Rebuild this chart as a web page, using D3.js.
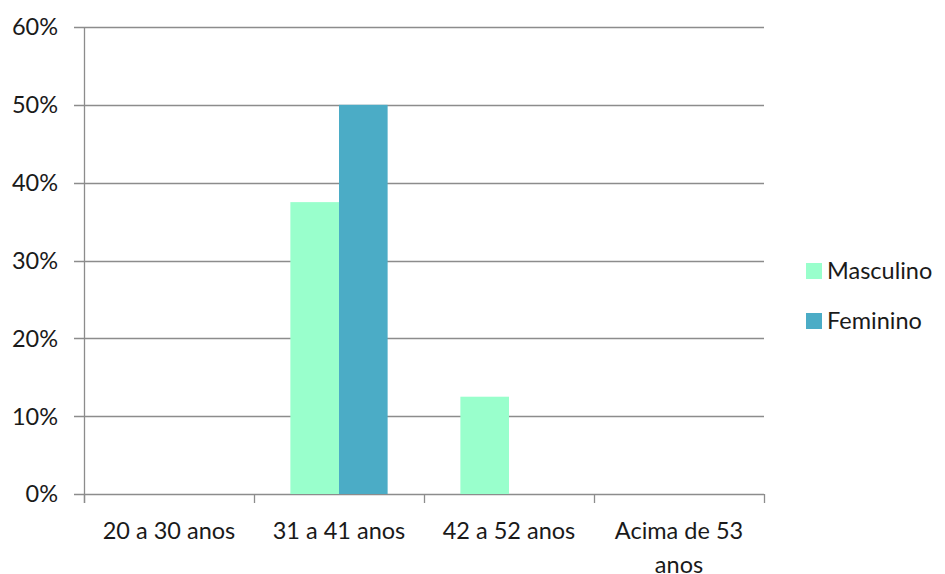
<!DOCTYPE html>
<html>
<head>
<meta charset="utf-8">
<script src="https://cdn.jsdelivr.net/npm/d3@7"></script>
<style>
  body { margin: 0; background: #fff; }
  text { font-family: Lato, "Open Sans", sans-serif; fill: #1a1a1a; }
</style>
</head>
<body>
<svg id="chart" width="945" height="574"></svg>
<script>
const categories = ["20 a 30 anos", "31 a 41 anos", "42 a 52 anos", "Acima de 53 anos"];
const seriesNames = ["Masculino", "Feminino"];
const masculino = [0, 0.375, 0.125, 0];
const feminino = [0, 0.5, 0, 0];
const yTicks = [0, 0.1, 0.2, 0.3, 0.4, 0.5, 0.6];
const colors = ["#99ffcc", "#4bacc6"];

const svg = d3.select("#chart");
const margin = { top: 27, left: 84, right: 181, bottom: 80 };
const width = +svg.attr("width");
const height = +svg.attr("height");
const innerWidth = width - margin.left - margin.right;
const innerHeight = height - margin.top - margin.bottom;
const fontSize = "23.5px";

const g = svg.append("g").attr("transform", `translate(${margin.left},${margin.top})`);

const x = d3.scaleBand().domain(categories).range([0, innerWidth]).paddingInner(0).paddingOuter(0);
const y = d3.scaleLinear().domain([0, 0.6]).range([innerHeight, 0]);

// gridlines
g.append("g")
  .selectAll("line")
  .data(yTicks)
  .join("line")
  .attr("x1", -10)
  .attr("x2", innerWidth)
  .attr("y1", (d) => Math.round(y(d)) + 0.5)
  .attr("y2", (d) => Math.round(y(d)) + 0.5)
  .attr("stroke", "#8c8c8c")
  .attr("stroke-width", 1.3);

// y labels
g.append("g")
  .selectAll("text")
  .data(yTicks)
  .join("text")
  .attr("x", -26)
  .attr("y", (d) => y(d))
  .attr("dy", "0.36em")
  .attr("text-anchor", "end")
  .style("font-size", fontSize)
  .text((d) => d3.format(".0%")(d));

// bars
const groupPad = x.bandwidth() * 0.214;
const x1 = d3.scaleBand().domain(seriesNames).range([groupPad, x.bandwidth() - groupPad]);
const seriesData = [masculino, feminino];

seriesNames.forEach((name, si) => {
  g.append("g")
    .selectAll("rect")
    .data(categories.map((c, i) => ({ c, v: seriesData[si][i] })))
    .join("rect")
    .attr("x", (d) => x(d.c) + x1(name))
    .attr("y", (d) => y(d.v))
    .attr("width", x1.bandwidth())
    .attr("height", (d) => innerHeight - y(d.v))
    .attr("fill", colors[si]);
});

// y axis line
g.append("line")
  .attr("x1", 0.5).attr("x2", 0.5)
  .attr("y1", 0).attr("y2", innerHeight + 9)
  .attr("stroke", "#8c8c8c").attr("stroke-width", 1.3);

// category ticks
const boundaries = categories.map((c) => x(c)).concat([innerWidth]);
g.append("g")
  .selectAll("line")
  .data(boundaries)
  .join("line")
  .attr("x1", (d) => Math.round(d) + 0.5)
  .attr("x2", (d) => Math.round(d) + 0.5)
  .attr("y1", innerHeight)
  .attr("y2", innerHeight + 9)
  .attr("stroke", "#8c8c8c")
  .attr("stroke-width", 1.3);

// x labels
const labelLines = { "Acima de 53 anos": ["Acima de 53", "anos"] };
g.append("g")
  .selectAll("text")
  .data(categories)
  .join("text")
  .attr("x", (d) => x(d) + x.bandwidth() / 2)
  .attr("y", innerHeight + 45)
  .attr("text-anchor", "middle")
  .style("font-size", fontSize)
  .each(function (d) {
    const lines = labelLines[d] || [d];
    d3.select(this)
      .selectAll("tspan")
      .data(lines)
      .join("tspan")
      .attr("x", x(d) + x.bandwidth() / 2)
      .attr("dy", (l, i) => (i === 0 ? 0 : 34))
      .text((l) => l);
  });

// legend
const legend = svg.append("g").attr("transform", "translate(806,263)");
seriesNames.forEach((name, i) => {
  const row = legend.append("g").attr("transform", `translate(0,${i * 50})`);
  row.append("rect").attr("width", 16).attr("height", 16).attr("fill", colors[i]);
  row.append("text")
    .attr("x", 21)
    .attr("y", 8)
    .attr("dy", "0.36em")
    .style("font-size", fontSize)
    .text(name);
});
</script>
</body>
</html>
